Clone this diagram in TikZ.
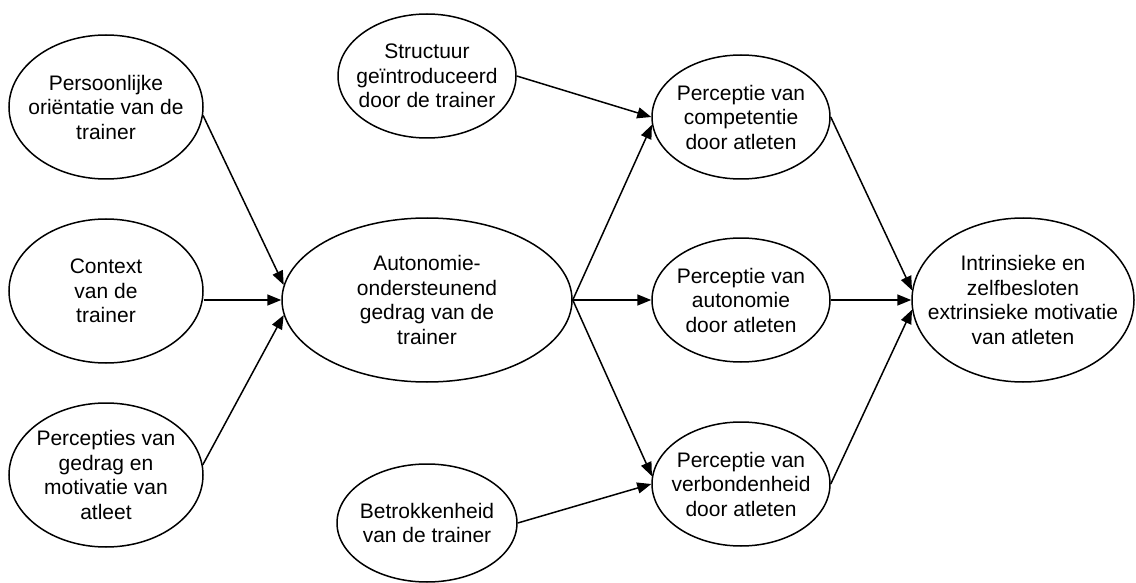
\documentclass[tikz,border=0pt]{standalone}
\usepackage{fontspec}
\setmainfont{Liberation Sans}
\usetikzlibrary{shapes.geometric,arrows.meta}
\begin{document}
\begin{tikzpicture}[x=1pt,y=-1pt,
  ell/.style={ellipse, draw, line width=1.5pt, inner sep=0pt, fill=white},
  txt/.style={align=center, font=\fontsize{21}{24.5}\selectfont, inner sep=0pt},
  conn/.style={line width=1.5pt, -{Triangle[length=14pt,width=11pt]}}]
\useasboundingbox (0,0) rectangle (1136,583);
\fill[white] (0,0) rectangle (1136,583);
% left column
\node[ell, minimum width=194pt, minimum height=144pt] (pers) at (106,107) {};
\node[txt] (perst) at (pers.center) {Persoonlijke\\oriëntatie van de\\trainer};
\node[ell, minimum width=194pt, minimum height=144pt] (ctx) at (106,291) {};
\node[txt] (ctxt) at (ctx.center) {Context\\van de\\trainer};
\node[ell, minimum width=194pt, minimum height=144pt] (perc) at (106,475) {};
\node[txt] (perct) at (perc.center) {Percepties van\\gedrag en\\motivatie van\\atleet};
% middle column
\node[ell, minimum width=290pt, minimum height=164pt] (aut) at (427,300) {};
\node[txt] (autt) at (aut.center) {Autonomie-\\ondersteunend\\gedrag van de\\trainer};
\node[ell, minimum width=178pt, minimum height=124pt] (str) at (427,76) {};
\node[txt] (strt) at (str.center) {Structuur\\geïntroduceerd\\door de trainer};
\node[ell, minimum width=180pt, minimum height=118pt] (bet) at (427,523) {};
\node[txt] (bett) at (bet.center) {Betrokkenheid\\van de trainer};
% perception column
\node[ell, minimum width=178pt, minimum height=124pt] (comp) at (741,117) {};
\node[txt] (compt) at (comp.center) {Perceptie van\\competentie\\door atleten};
\node[ell, minimum width=178pt, minimum height=124pt] (auto) at (741,300) {};
\node[txt] (autot) at (auto.center) {Perceptie van\\autonomie\\door atleten};
\node[ell, minimum width=178pt, minimum height=124pt] (verb) at (741,484) {};
\node[txt] (verbt) at (verb.center) {Perceptie van\\verbondenheid\\door atleten};
% outcome
\node[ell, minimum width=222pt, minimum height=164pt] (intr) at (1023,300) {};
\node[txt] (intrt) at (intr.center) {Intrinsieke en\\zelfbesloten\\extrinsieke motivatie\\van atleten};
% connectors
\draw[conn] (pers.-5) -- (aut.174);
\draw[conn] (aut.west -| ctx.east) -- (aut.west);
\draw[conn] (perc.6) -- (aut.186);
\draw[conn] (str.east) -- (comp.west);
\draw[conn] (aut.east) -- (comp.185);
\draw[conn] (aut.east) -- (auto.west);
\draw[conn] (aut.east) -- (verb.175);
\draw[conn] (bet.east) -- (verb.west);
\draw[conn] (comp.east) -- (intr.175);
\draw[conn] (auto.east) -- (intr.west);
\draw[conn] (verb.east) -- (intr.185);
\end{tikzpicture}
\end{document}
